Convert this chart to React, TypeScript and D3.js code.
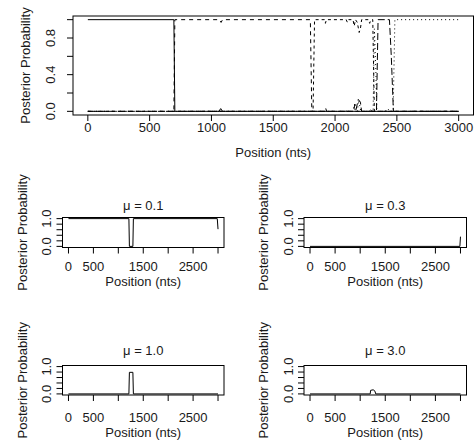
import React from "react";
import * as d3 from "d3";

// ---------- data (position in nts, posterior probability) ----------
const xTickValues = [0, 500, 1000, 1500, 2000, 2500, 3000];
const topXTickLabels = ["0", "500", "1000", "1500", "2000", "2500", "3000"];
const smallXTickLabels = ["0", "500", "", "1500", "", "2500", ""];
const yTickValues = [0, 0.2, 0.4, 0.6, 0.8, 1.0];
const topYTickLabels = ["0.0", "", "0.4", "", "0.8", ""];
const smallYTickLabels = ["0.0", "", "", "", "", "1.0"];

const state1: [number, number][] = [
  [0, 1], [696, 1], [704, 0], [1060, 0], [1075, 0.03], [1090, 0], [3000, 0],
];
const state2: [number, number][] = [
  [0, 0], [696, 0], [704, 1], [1065, 1], [1078, 0.97], [1090, 1], [1800, 1],
  [1812, 0], [1920, 0], [1925, 0.03], [1932, 0], [3000, 0],
];
const state3: [number, number][] = [
  [0, 0], [1822, 0], [1834, 1], [1915, 1], [1922, 0.96], [1930, 1], [2090, 1],
  [2100, 0.97], [2110, 1], [2145, 1], [2155, 0.93], [2165, 1], [2180, 0.97],
  [2195, 0.86], [2205, 0.9], [2215, 1], [2270, 1], [2280, 0.96], [2290, 1],
  [2305, 1], [2318, 0], [3000, 0],
];
const state4: [number, number][] = [
  [0, 0], [2075, 0], [2085, 0.02], [2095, 0], [2150, 0], [2160, 0.08],
  [2170, 0.02], [2188, 0.13], [2205, 0.1], [2215, 0], [2335, 0], [2348, 1],
  [2440, 1], [2455, 0.6], [2472, 0], [3000, 0],
];
const state5: [number, number][] = [
  [0, 0], [2140, 0], [2155, 0.05], [2165, 0], [2180, 0], [2192, 0.12],
  [2208, 0], [2280, 0], [2290, 0.03], [2300, 0], [2308, 0], [2318, 0.9],
  [2330, 0.45], [2338, 0], [2405, 0], [2425, 0.03], [2445, 0], [2470, 0],
  [2484, 1], [3000, 1],
];
const stateDashes = ["", "4,4", "3,3", "7,3", "1,3"];

const mu01: [number, number][] = [
  [0, 1], [1212, 1], [1222, 0], [1292, 0], [1302, 1], [2985, 1], [3000, 0.62],
];
const mu03: [number, number][] = [[0, 0], [2988, 0], [3000, 0.35]];
const mu10: [number, number][] = [
  [0, 0], [1212, 0], [1222, 0.79], [1292, 0.79], [1302, 0], [3000, 0],
];
const mu30: [number, number][] = [
  [0, 0], [1200, 0], [1208, 0.13], [1260, 0.15], [1295, 0.1], [1310, 0], [3000, 0],
];
const smallTitles = ["\u03bc = 0.1", "\u03bc = 0.3", "\u03bc = 1.0", "\u03bc = 3.0"];

// ---------- layout ----------
const FONT = "'Liberation Sans', Arial, Helvetica, sans-serif";
const TXT = "#1a1a1a";

type Box = { l: number; r: number; t: number; b: number };

interface PanelProps {
  box: Box;
  series: [number, number][][];
  dashes: string[];
  xLabels: string[];
  yLabels: string[];
  xLabelY: number;
  xTitleY: number;
  yLabelX: number;
  yTitleX: number;
  title?: string;
  titleY?: number;
}

function Panel(p: PanelProps) {
  const { box } = p;
  const x = d3.scaleLinear().domain([-120, 3120]).range([box.l, box.r]);
  const y = d3.scaleLinear().domain([-0.04, 1.04]).range([box.b, box.t]);
  const line = d3
    .line<[number, number]>()
    .x((d) => x(d[0]))
    .y((d) => y(d[1]));
  const tick = 6;
  const midY = (box.t + box.b) / 2;
  return (
    <g>
      {p.series.map((s, i) => (
        <path
          key={i}
          d={line(s) || ""}
          fill="none"
          stroke="#000"
          strokeWidth={1}
          strokeDasharray={p.dashes[i] || undefined}
        />
      ))}
      <rect
        x={box.l}
        y={box.t}
        width={box.r - box.l}
        height={box.b - box.t}
        fill="none"
        stroke="#000"
        strokeWidth={1}
      />
      {xTickValues.map((v, i) => (
        <g key={"x" + i}>
          <line x1={x(v)} x2={x(v)} y1={box.b} y2={box.b + tick} stroke="#000" />
          {p.xLabels[i] ? (
            <text
              x={x(v)}
              y={p.xLabelY}
              dy="0.35em"
              textAnchor="middle"
              fontFamily={FONT}
              fontSize={13}
              fill={TXT}
            >
              {p.xLabels[i]}
            </text>
          ) : null}
        </g>
      ))}
      {yTickValues.map((v, i) => (
        <g key={"y" + i}>
          <line x1={box.l - tick} x2={box.l} y1={y(v)} y2={y(v)} stroke="#000" />
          {p.yLabels[i] ? (
            <text
              transform={`translate(${p.yLabelX},${y(v)}) rotate(-90)`}
              dy="0.35em"
              textAnchor="middle"
              fontFamily={FONT}
              fontSize={13}
              fill={TXT}
            >
              {p.yLabels[i]}
            </text>
          ) : null}
        </g>
      ))}
      <text
        x={(x(0) + x(3000)) / 2}
        y={p.xTitleY}
        dy="0.35em"
        textAnchor="middle"
        fontFamily={FONT}
        fontSize={13}
        fill={TXT}
      >
        Position (nts)
      </text>
      <text
        transform={`translate(${p.yTitleX},${midY}) rotate(-90)`}
        dy="0.35em"
        textAnchor="middle"
        fontFamily={FONT}
        fontSize={13}
        fill={TXT}
      >
        Posterior Probability
      </text>
      {p.title ? (
        <text
          x={(box.l + box.r) / 2}
          y={p.titleY}
          dy="0.35em"
          textAnchor="middle"
          fontFamily={FONT}
          fontSize={13}
          fill={TXT}
        >
          {p.title}
        </text>
      ) : null}
    </g>
  );
}

const cols = [
  { l: 62.5, r: 224, yLabelX: 46.5, yTitleX: 22 },
  { l: 304, r: 466.5, yLabelX: 288, yTitleX: 263.5 },
];
const rows = [
  { t: 217.5, b: 247.5, xLabelY: 266, xTitleY: 281, titleY: 205 },
  { t: 365.5, b: 395, xLabelY: 417, xTitleY: 432, titleY: 350 },
];
const smallSeries = [mu01, mu03, mu10, mu30];

export default function App() {
  return (
    <svg
      width={475}
      height={441}
      style={{ position: "absolute", left: 0, top: 0, background: "#fff" }}
    >
      <rect x={0} y={0} width={475} height={441} fill="#fff" />
      <Panel
        box={{ l: 73, r: 473.5, t: 16, b: 115 }}
        series={[state1, state2, state3, state4, state5]}
        dashes={stateDashes}
        xLabels={topXTickLabels}
        yLabels={topYTickLabels}
        xLabelY={127}
        xTitleY={152}
        yLabelX={50}
        yTitleX={25}
      />
      {smallSeries.map((s, i) => {
        const r = rows[Math.floor(i / 2)];
        const c = cols[i % 2];
        return (
          <Panel
            key={i}
            box={{ l: c.l, r: c.r, t: r.t, b: r.b }}
            series={[s]}
            dashes={[""]}
            xLabels={smallXTickLabels}
            yLabels={smallYTickLabels}
            xLabelY={r.xLabelY}
            xTitleY={r.xTitleY}
            yLabelX={c.yLabelX}
            yTitleX={c.yTitleX}
            title={smallTitles[i]}
            titleY={r.titleY}
          />
        );
      })}
    </svg>
  );
}
